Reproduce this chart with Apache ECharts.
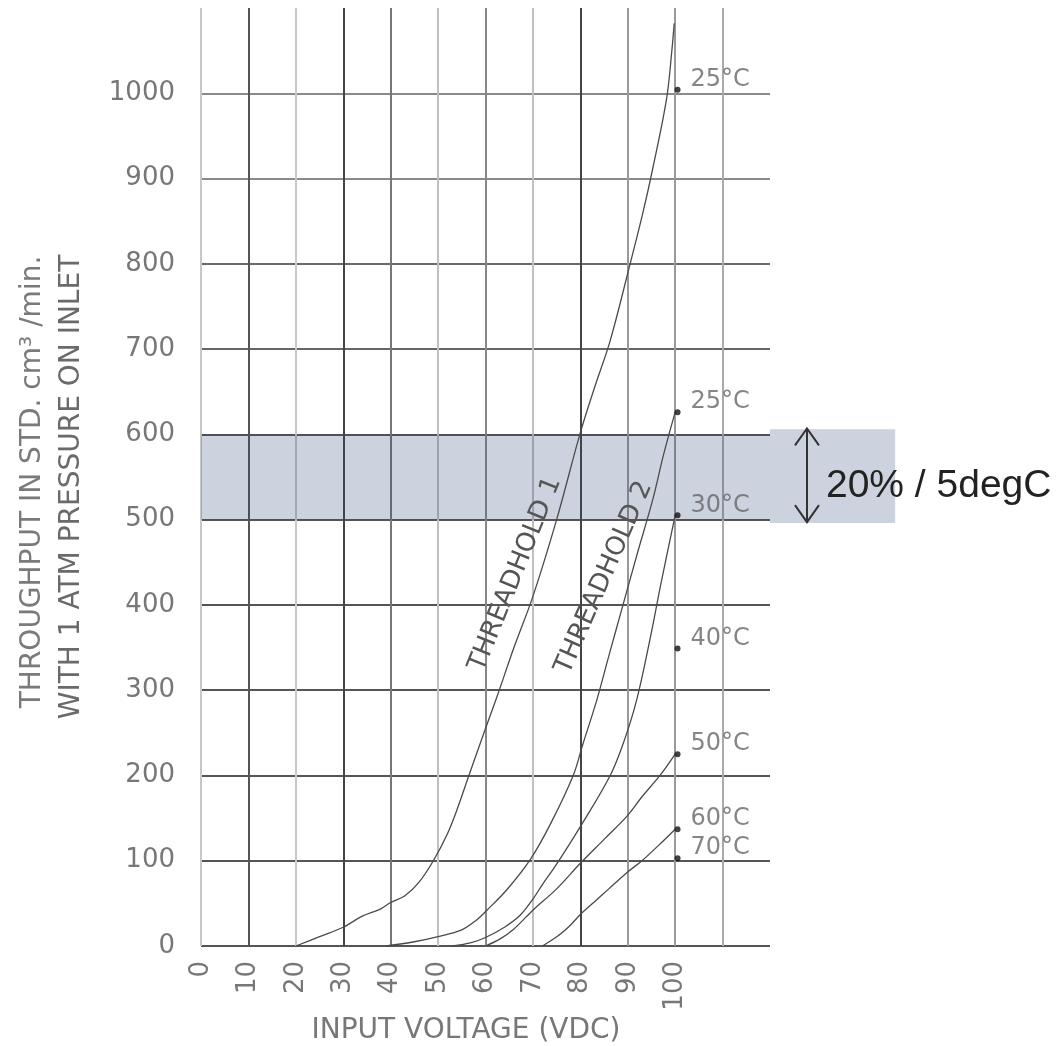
<!DOCTYPE html>
<html>
<head>
<meta charset="utf-8">
<script src="https://cdn.jsdelivr.net/npm/echarts@6/dist/echarts.min.js"></script>
<style>
html,body{margin:0;padding:0;background:#fff;}
#c{width:1063px;height:1046px;}
</style>
</head>
<body>
<div id="c"></div>
<script>
// ---- data ----
const xTickLabels = ['0','10','20','30','40','50','60','70','80','90','100'];
const yTickLabels = ['0','100','200','300','400','500','600','700','800','900','1000'];

const curveThreshold1 = [[20,0],[25,11],[30,22],[34,35],[37.7,43],[40,51],[43,59],[46,75],[49,100],[52,132],[54,160],[56.5,200],[60,255],[62.4,292],[66,350],[70,410],[75,500],[80,602],[83,655],[86.3,710],[90.5,800],[93.2,860],[95.4,915],[98.2,994],[99.3,1050],[99.8,1082]];
const curveThreshold2 = [[39,0],[45,5],[50,11],[55,19],[58,30],[60.3,42],[64.5,66],[69.4,101],[73.6,142],[78.5,200],[80.5,236],[83.5,289],[86,340],[89,400],[92,460],[95.3,524],[97.5,575],[100,626]];
const curve30 = [[53,0],[57,4],[60,10],[64,22],[67.3,36],[70,55],[72,72],[75,96],[80,140],[86.3,200],[89.2,240],[91.9,289],[94.7,360],[97,425],[100,505]];
const curve50 = [[60,0],[63,8],[66,20],[70,42],[75,67],[80,97],[85,125],[89.8,152],[93,175],[96.8,200],[100,225]];
const curve60 = [[72,0],[74,7],[76,15],[78,25],[80,37],[83,52],[86,67],[89.8,86],[93,100],[96.5,118],[100,137]];

const tempLabels = ['25°C','25°C','30°C','40°C','50°C','60°C','70°C'];
const tempDotX = [100.5,100.5,100.5,100.5,100.5,100.5,100.5];
const tempDotY = [1004,626,505,349,225,137,103];

const thresholdLabels = ['THREADHOLD 1','THREADHOLD 2'];
const thresholdAnchor = [[66.3,436,68],[85,432,66.4]]; // x, y, angle(deg)

const bandRects = [[0,120,500,600],[120,146.4,496,606]]; // x0,x1,y0,y1
const arrowSpan = [[127.8,497,607]]; // x, y0, y1
const noteText = ['20% / 5degC'];
const noteAnchor = [[131.8,539]];

const yName1 = 'THROUGHPUT IN STD. cm³ /min.';
const yName2 = 'WITH 1 ATM PRESSURE ON INLET';
const xName = 'INPUT VOLTAGE (VDC)';

const xGridColors = ['#c8c8c8','#555','#c8c8c8','#444','#777','#c0c0c0','#888','#c0c0c0','#444','#999','#999','#aaa','rgba(0,0,0,0)'];
const yGridColors = ['#555','#555','#555','#555','#555','#555','#555','#666','#6a6a6a','#8a8a8a','#8a8a8a','rgba(0,0,0,0)'];

// ---- chart ----
const chart = echarts.init(document.getElementById('c'), null, {renderer:'canvas'});
const FONT = 'DejaVu Sans';
const lineStyleCurve = {color:'#4a4a4a', width:1.3};

function curveSeries(data){
  return {type:'line', data:data, symbol:'none', smooth:0.35,
    lineStyle:lineStyleCurve, z:4, silent:true};
}

const option = {
  animation:false,
  backgroundColor:'#fff',
  grid:{left:201, right:293, top:8, bottom:100, containLabel:false},
  xAxis:{
    type:'value', min:0, max:120, interval:10,
    axisLine:{show:false}, axisTick:{show:false},
    axisLabel:{rotate:90, margin:15, interval:0, color:'#777', fontSize:26, fontFamily:FONT,
      formatter:v => (v <= 100 ? xTickLabels[Math.round(v/10)] : '')},
    splitLine:{show:true, lineStyle:{color:xGridColors, width:2}}
  },
  yAxis:{
    type:'value', min:0, max:1100, interval:100,
    axisLine:{show:false}, axisTick:{show:false},
    axisLabel:{margin:26, color:'#777', fontSize:26, fontFamily:FONT,
      formatter:v => (v <= 1000 ? yTickLabels[Math.round(v/100)] : '')},
    splitLine:{show:true, lineStyle:{color:yGridColors, width:2}}
  },
  graphic:[
    {type:'text', x:33, y:482, rotation:Math.PI/2,
      style:{text:yName1, fontSize:28, fontFamily:FONT, fill:'#7a7a7a', align:'center', verticalAlign:'middle'}},
    {type:'text', x:72, y:487, rotation:Math.PI/2,
      style:{text:yName2, fontSize:28, fontFamily:FONT, fill:'#6a6a6a', align:'center', verticalAlign:'middle'}},
    {type:'text', x:466, y:1031,
      style:{text:xName, fontSize:28, fontFamily:FONT, fill:'#777', align:'center', verticalAlign:'middle'}}
  ],
  series:[
    {
      type:'custom', data:bandRects, z:3, silent:true, clip:false,
      renderItem:(params, api) => {
        const p0 = api.coord([api.value(0), api.value(3)]);
        const p1 = api.coord([api.value(1), api.value(2)]);
        return {type:'rect', shape:{x:p0[0], y:p0[1], width:p1[0]-p0[0], height:p1[1]-p0[1]},
          style:{fill:'rgba(50,75,120,0.245)'}};
      }
    },
    curveSeries(curveThreshold1),
    curveSeries(curveThreshold2),
    curveSeries(curve30),
    curveSeries(curve50),
    curveSeries(curve60),
    {
      type:'scatter', data:tempDotX.map((x,i)=>[x,tempDotY[i]]), symbol:'circle', symbolSize:6,
      itemStyle:{color:'#111'}, z:6, silent:true,
      label:{show:true, position:'right', distance:10, offset:[0,-10], color:'#666', fontSize:24, fontFamily:FONT,
        formatter:p => tempLabels[p.dataIndex]}
    },
    {
      type:'custom', data:thresholdAnchor.map((a,i)=>[a[0],a[1],a[2],i]), z:6, silent:true, clip:false,
      renderItem:(params, api) => {
        const p = api.coord([api.value(0), api.value(1)]);
        return {type:'text', x:p[0], y:p[1], rotation:api.value(2)*Math.PI/180,
          style:{text:thresholdLabels[api.value(3)], fontSize:26, fontFamily:FONT, fill:'#555', align:'center', verticalAlign:'middle'}};
      }
    },
    {
      type:'custom', data:arrowSpan, z:7, silent:true, clip:false,
      renderItem:(params, api) => {
        const top = api.coord([api.value(0), api.value(2)]);
        const bot = api.coord([api.value(0), api.value(1)]);
        const hw = 12, hl = 17;
        const st = {stroke:'#333', lineWidth:2, fill:null};
        return {type:'group', children:[
          {type:'line', shape:{x1:top[0], y1:top[1], x2:bot[0], y2:bot[1]}, style:st},
          {type:'polyline', shape:{points:[[top[0]-hw, top[1]+hl],[top[0], top[1]],[top[0]+hw, top[1]+hl]]}, style:st},
          {type:'polyline', shape:{points:[[bot[0]-hw, bot[1]-hl],[bot[0], bot[1]],[bot[0]+hw, bot[1]-hl]]}, style:st}
        ]};
      }
    },
    {
      type:'custom', data:noteAnchor.map((a,i)=>[a[0],a[1],i]), z:7, silent:true, clip:false,
      renderItem:(params, api) => {
        const p = api.coord([api.value(0), api.value(1)]);
        return {type:'text', x:p[0], y:p[1],
          style:{text:noteText[api.value(2)], fontSize:39, fontFamily:'Liberation Sans', fill:'#222', align:'left', verticalAlign:'middle'}};
      }
    }
  ]
};
chart.setOption(option);
</script>
</body>
</html>
